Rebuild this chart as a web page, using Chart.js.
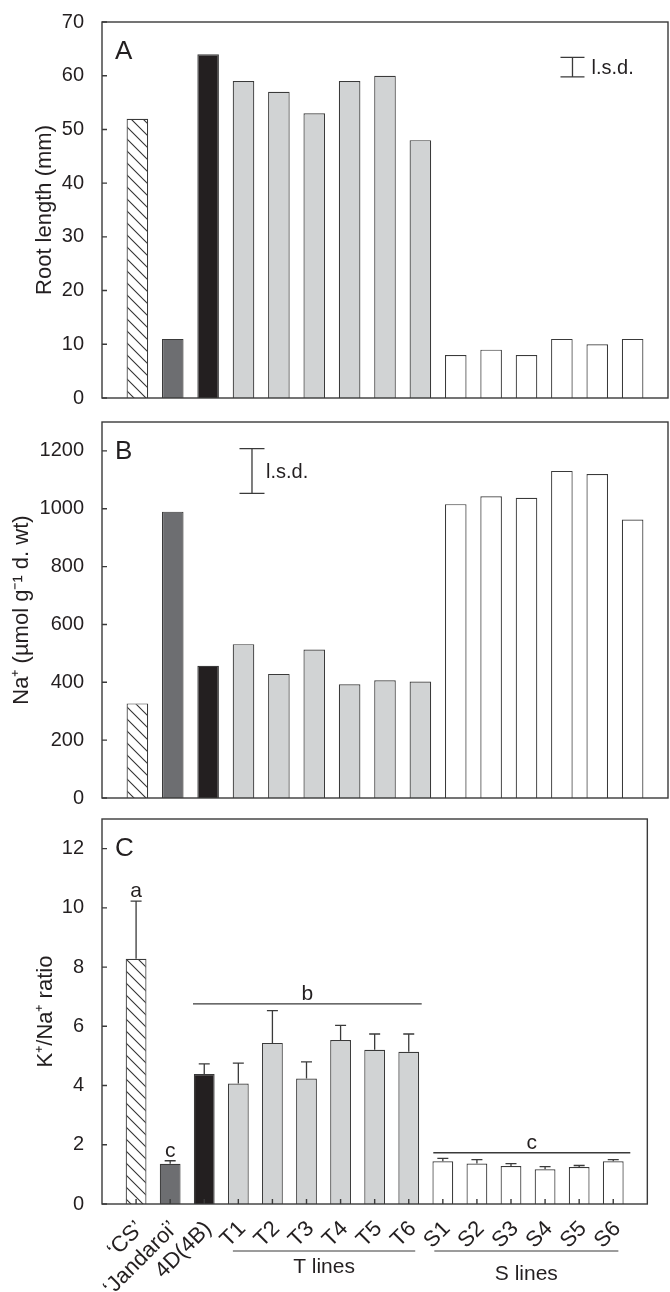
<!DOCTYPE html>
<html>
<head>
<meta charset="utf-8">
<script src="https://cdn.jsdelivr.net/npm/chart.js@4.4.1/dist/chart.umd.min.js"></script>
<style>
html, body { margin: 0; padding: 0; background: #fff; }
#wrap { position: relative; width: 670px; height: 1292px; overflow: hidden; }
canvas { position: absolute; left: 0; }
</style>
</head>
<body>
<div id="wrap">
  <canvas id="chartA" width="670" height="420" style="top:0px"></canvas>
  <canvas id="chartB" width="670" height="420" style="top:400px"></canvas>
  <canvas id="chartC" width="670" height="495" style="top:797px"></canvas>
</div>
<script>
// lines tested
const lines = ['‘CS’', '‘Jandaroi’', '4D(4B)', 'T1', 'T2', 'T3', 'T4', 'T5', 'T6', 'S1', 'S2', 'S3', 'S4', 'S5', 'S6'];

// panel A: root length (mm)
const rootLength = [52, 11, 64, 59, 57, 53, 59, 60, 48, 8, 9, 8, 11, 10, 11];
// panel B: Na+ (umol/g d. wt)
const naContent = [327, 990, 457, 532, 429, 513, 393, 407, 403, 1016, 1043, 1038, 1131, 1120, 963];
// panel C: K+/Na+ ratio and its error (upper bar only)
const kNaRatio = [8.28, 1.36, 4.39, 4.07, 5.44, 4.24, 5.54, 5.21, 5.14, 1.44, 1.37, 1.28, 1.17, 1.25, 1.44];
const kNaErr = [1.95, 0.10, 0.34, 0.69, 1.09, 0.56, 0.49, 0.53, 0.60, 0.10, 0.13, 0.08, 0.09, 0.05, 0.06];

const ticksA = [0, 10, 20, 30, 40, 50, 60, 70];
const ticksB = [0, 200, 400, 600, 800, 1000, 1200];
const ticksC = [0, 2, 4, 6, 8, 10, 12];

// l.s.d. bars: low/high in data units
const lsdA = { low: 59.8, high: 63.4 };
const lsdB = { low: 1053, high: 1208 };

const ink = '#231f20';
const edge = '#3a3a3a';
const font = "'Liberation Sans', Arial, sans-serif";

// empty slot on each side of the 15 bars
const labels = [''].concat(lines, ['']);
const pad = arr => [null].concat(arr, [null]);

function hatch() {
  const c = document.createElement('canvas');
  c.width = 12; c.height = 12;
  const g = c.getContext('2d');
  g.fillStyle = '#fff';
  g.fillRect(0, 0, 12, 12);
  g.strokeStyle = '#333';
  g.lineWidth = 1.1;
  g.beginPath();
  g.moveTo(-3, -3); g.lineTo(15, 15);
  g.moveTo(-3, 9); g.lineTo(3, 15);
  g.moveTo(9, -3); g.lineTo(15, 3);
  g.stroke();
  return g.createPattern(c, 'repeat');
}

const hatchFill = hatch();
const fills = lines.map((l, i) => {
  if (i === 0) return hatchFill;
  if (i === 1) return '#6d6e71';
  if (i === 2) return ink;
  if (l[0] === 'T') return '#d1d3d4';
  return '#ffffff';
});

// frame, inner tick marks, panel letter, l.s.d. and the annotations
const decor = {
  id: 'decor',
  afterDatasetsDraw(chart, args, o) {
    const { ctx, chartArea: a, scales: { x, y } } = chart;
    ctx.save();
    ctx.strokeStyle = edge;
    ctx.lineWidth = 1.4;
    ctx.strokeRect(a.left, a.top, a.right - a.left, a.bottom - a.top);

    ctx.beginPath();
    y.ticks.forEach(t => {
      const py = y.getPixelForValue(t.value);
      ctx.moveTo(a.left, py); ctx.lineTo(a.left + 5, py);
    });
    if (o.xTicks) {
      for (let i = 1; i <= lines.length; i++) {
        const px = x.getPixelForValue(i);
        ctx.moveTo(px, a.bottom); ctx.lineTo(px, a.bottom - 5);
      }
    }
    ctx.stroke();

    ctx.fillStyle = ink;
    ctx.font = '26px ' + font;
    ctx.textBaseline = 'alphabetic';
    ctx.textAlign = 'left';
    ctx.fillText(o.letter, a.left + 13, a.top + 37);

    if (o.lsd) {
      const px = x.getPixelForValue(o.lsd.at);
      const y0 = y.getPixelForValue(o.lsd.low), y1 = y.getPixelForValue(o.lsd.high);
      const w = o.lsd.cap;
      ctx.lineWidth = 1.3;
      ctx.beginPath();
      ctx.moveTo(px, y0); ctx.lineTo(px, y1);
      ctx.moveTo(px - w, y0); ctx.lineTo(px + w, y0);
      ctx.moveTo(px - w, y1); ctx.lineTo(px + w, y1);
      ctx.stroke();
      ctx.font = '20px ' + font;
      ctx.textBaseline = 'middle';
      ctx.fillText('l.s.d.', px + o.lsd.gap, (y0 + y1) / 2 + 1);
    }

    if (o.errors) {
      ctx.lineWidth = 1.3;
      const meta = chart.getDatasetMeta(0);
      o.errors.forEach((e, i) => {
        const bar = meta.data[i + 1];
        const top = y.getPixelForValue(o.values[i] + e);
        ctx.beginPath();
        ctx.moveTo(bar.x, bar.y); ctx.lineTo(bar.x, top);
        ctx.moveTo(bar.x - 5.5, top); ctx.lineTo(bar.x + 5.5, top);
        ctx.stroke();
      });
      ctx.font = '21px ' + font;
      ctx.textAlign = 'center';
      ctx.textBaseline = 'alphabetic';
      // letters over single bars
      [[0, 'a'], [1, 'c']].forEach(([i, s]) => {
        const px = meta.data[i + 1].x;
        ctx.fillText(s, px, y.getPixelForValue(o.values[i] + o.errors[i]) - 4);
      });
      // letters over groups
      [[2.67, 9.38, 6.76, 'b'], [9.72, 15.5, 1.73, 'c']].forEach(([x0, x1, v, s]) => {
        const p0 = x.getPixelForValue(x0), p1 = x.getPixelForValue(x1), py = y.getPixelForValue(v);
        ctx.beginPath();
        ctx.moveTo(p0, py); ctx.lineTo(p1, py);
        ctx.stroke();
        ctx.fillText(s, (p0 + p1) / 2, py - 4);
      });
      // T lines / S lines
      ctx.font = '21px ' + font;
      ctx.textBaseline = 'middle';
      [[3.84, 9.19, 'T lines', 16], [9.75, 15.15, 'S lines', 23]].forEach(([x0, x1, s, dy]) => {
        const p0 = x.getPixelForValue(x0), p1 = x.getPixelForValue(x1);
        const py = a.bottom + 47;
        ctx.lineWidth = 1.2;
        ctx.beginPath();
        ctx.moveTo(p0, py); ctx.lineTo(p1, py);
        ctx.stroke();
        ctx.fillText(s, (p0 + p1) / 2, py + dy);
      });
    }
    ctx.restore();
  }
};

function makeChart(id, values, yTicks, yMax, title, titlePad, opts) {
  const showX = !!opts.xTicks;
  return new Chart(document.getElementById(id), {
    type: 'bar',
    data: {
      labels: labels,
      datasets: [{
        data: pad(values),
        backgroundColor: pad(fills),
        borderColor: edge,
        borderWidth: 1.2,
        categoryPercentage: 1,
        barPercentage: 0.61
      }]
    },
    options: {
      responsive: false,
      animation: false,
      events: [],
      layout: { padding: { top: opts.top, right: 2, left: 0, bottom: opts.bottom } },
      plugins: { legend: { display: false }, tooltip: { enabled: false }, decor: opts },
      scales: {
        x: {
          display: showX,
          offset: false,
          grid: { display: false },
          border: { display: false },
          ticks: {
            color: ink,
            font: { family: font, size: 22 },
            minRotation: 45,
            maxRotation: 45,
            autoSkip: false,
            padding: 4,
            labelOffset: 4
          },
          afterFit(s) { s.height = opts.xHeight || 0; }
        },
        y: {
          min: 0,
          max: yMax,
          grid: { display: false },
          border: { display: false },
          ticks: {
            color: ink,
            font: { family: font, size: 20 },
            padding: 10,
            callback: v => String(v)
          },
          afterBuildTicks(s) { s.ticks = yTicks.map(v => ({ value: v })); },
          afterFit(s) { s.width = 102; },
          title: {
            display: true,
            text: title,
            color: ink,
            font: { family: font, size: 22 },
            padding: { top: titlePad, bottom: 0 }
          }
        }
      }
    },
    plugins: [decor]
  });
}

makeChart('chartA', rootLength, ticksA, 70, 'Root length (mm)', 32,
  { letter: 'A', top: 11, bottom: 11, lsd: Object.assign({ at: 13.3, cap: 12, gap: 19 }, lsdA) });
makeChart('chartB', naContent, ticksB, 1300, 'Na⁺ (µmol g⁻¹ d. wt)', 9,
  { letter: 'B', top: 9, bottom: 14, lsd: Object.assign({ at: 4.24, cap: 12.5, gap: 14 }, lsdB) });
makeChart('chartC', kNaRatio, ticksC, 13, 'K⁺/Na⁺ ratio', 33,
  { letter: 'C', top: 9, bottom: 0, xTicks: true, xHeight: 88, errors: kNaErr, values: kNaRatio });
</script>
</body>
</html>
